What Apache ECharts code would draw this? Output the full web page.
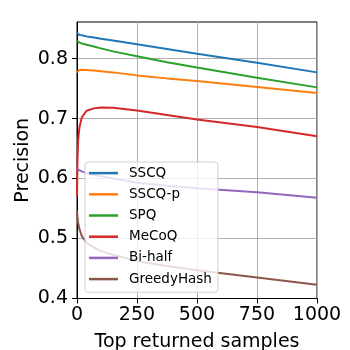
<!DOCTYPE html>
<html>
<head>
<meta charset="utf-8">
<script src="https://cdn.jsdelivr.net/npm/echarts@6/dist/echarts.min.js"></script>
<style>
  html, body { margin: 0; padding: 0; background: #fff; }
  #chart { width: 350px; height: 350px; }
</style>
</head>
<body>
<div id="chart"></div>
<script>
// top returned samples (x positions shared by every curve)
const samples = [0, 2, 5, 10, 20, 40, 70, 100, 150, 250, 375, 500, 750, 1000]

const sscq = [0.843, 0.841, 0.840, 0.8395, 0.839, 0.837, 0.835, 0.833, 0.830, 0.824, 0.816, 0.808, 0.793, 0.777]
const sscqP = [0.777, 0.779, 0.780, 0.781, 0.7815, 0.781, 0.780, 0.779, 0.777, 0.772, 0.767, 0.7625, 0.7525, 0.7425]
const spq = [0.829, 0.828, 0.8275, 0.827, 0.825, 0.823, 0.820, 0.817, 0.812, 0.804, 0.794, 0.785, 0.768, 0.752]
const mecoq = [0.57, 0.63, 0.665, 0.685, 0.702, 0.713, 0.717, 0.7185, 0.718, 0.7135, 0.706, 0.6985, 0.686, 0.6706]
const bihalf = [0.619, 0.617, 0.615, 0.614, 0.612, 0.609, 0.606, 0.604, 0.600, 0.593, 0.588, 0.584, 0.577, 0.568]
const greedy = [0.546, 0.536, 0.526, 0.516, 0.504, 0.493, 0.485, 0.479, 0.473, 0.462, 0.454, 0.447, 0.435, 0.423]

const names = ['SSCQ', 'SSCQ-p', 'SPQ', 'MeCoQ', 'Bi-half', 'GreedyHash']
const values = [sscq, sscqP, spq, mecoq, bihalf, greedy]
const colors = ['#1f77b4', '#ff7f0e', '#2ca02c', '#d62728', '#9467bd', '#8c564b']

const xTicks = [0, 250, 500, 750, 1000]
const yTicks = [0.4, 0.5, 0.6, 0.7, 0.8]

const font = 'DejaVu Sans'

;(function () {
    const el = document.querySelector('#chart')
    const chart = echarts.init(el, null, { renderer: 'canvas' })

    const series = names.map((name, i) => ({
        name: name,
        type: 'line',
        data: samples.map((x, j) => [x, values[i][j]]),
        showSymbol: false,
        symbol: 'none',
        lineStyle: { color: colors[i], width: 2 },
        itemStyle: { color: colors[i] },
        z: 2
    }))

    const option = {
        animation: false,
        textStyle: { fontFamily: font },
        grid: {
            left: 77, right: 33, top: 22, bottom: 51.5,
            outerBoundsMode: 'none',
            containLabel: false,
            show: true,
            borderColor: '#000',
            borderWidth: 1,
            backgroundColor: 'transparent'
        },
        legend: {
            orient: 'vertical',
            left: 85,
            top: 162,
            padding: [4, 6, 6, 4],
            itemGap: 7,
            itemWidth: 29,
            itemHeight: 2.5,
            icon: 'rect',
            backgroundColor: 'rgba(255,255,255,0.8)',
            borderColor: '#d0d0d0',
            borderWidth: 1,
            borderRadius: 3,
            textStyle: { fontFamily: font, fontSize: 13.5, color: '#000', lineHeight: 14.2, padding: [0, 0, 0, 6] },
            data: names.map((n, i) => ({ name: n, itemStyle: { color: colors[i] } }))
        },
        xAxis: {
            type: 'value',
            min: 0,
            max: 1000,
            interval: 250,
            name: 'Top returned samples',
            nameLocation: 'middle',
            nameGap: 34,
            nameMoveOverlap: false,
            nameTextStyle: { fontFamily: font, fontSize: 19, color: '#000' },
            axisLine: { lineStyle: { color: '#000', width: 1 } },
            axisTick: { show: true, length: 5, lineStyle: { color: '#000' }, customValues: xTicks },
            axisLabel: {
                fontFamily: font, fontSize: 19, color: '#000', margin: 7,
                customValues: xTicks,
                formatter: v => String(v)
            },
            splitLine: { show: true, lineStyle: { color: '#b0b0b0', width: 1 } }
        },
        yAxis: {
            type: 'value',
            min: 0.4,
            max: 0.861,
            interval: 0.1,
            name: 'Precision',
            nameLocation: 'middle',
            nameGap: 44,
            nameMoveOverlap: false,
            nameTextStyle: { fontFamily: font, fontSize: 19, color: '#000' },
            axisLine: { show: true, lineStyle: { color: '#000', width: 1 } },
            axisTick: { show: true, length: 5, lineStyle: { color: '#000' }, customValues: yTicks },
            axisLabel: {
                fontFamily: font, fontSize: 19, color: '#000', margin: 9,
                customValues: yTicks,
                formatter: v => v.toFixed(1)
            },
            splitLine: { show: true, lineStyle: { color: '#b0b0b0', width: 1 } }
        },
        series: series
    }

    chart.setOption(option)
    window.addEventListener('resize', () => {
        chart.resize()
    })
})();
</script>
</body>
</html>
